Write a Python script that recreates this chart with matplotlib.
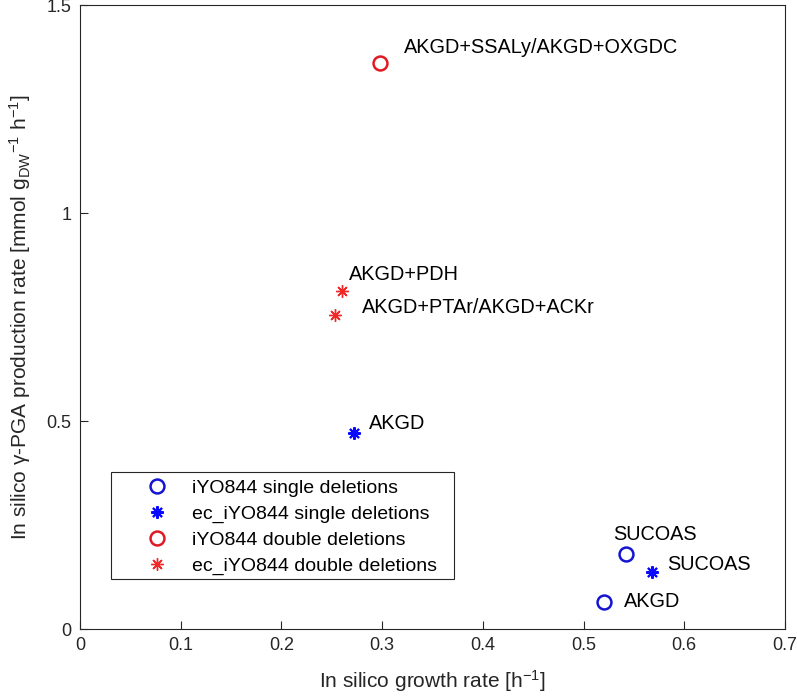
import matplotlib
matplotlib.use("Agg")
import matplotlib.pyplot as plt
from matplotlib.patches import Rectangle

plt.rcParams['font.family'] = ['Liberation Sans', 'DejaVu Sans']
plt.rcParams['mathtext.fontset'] = 'custom'
plt.rcParams['mathtext.rm'] = 'Liberation Sans'
plt.rcParams['mathtext.it'] = 'Liberation Sans'

# data
single_circle_x = [0.542, 0.520]
single_circle_y = [0.180, 0.066]
single_star_x = [0.2725, 0.568]
single_star_y = [0.470, 0.138]
double_circle_x = [0.298]
double_circle_y = [1.360]
double_star_x = [0.260, 0.253]
double_star_y = [0.8125, 0.756]

labels = ["AKGD+SSALy/AKGD+OXGDC", "AKGD+PDH", "AKGD+PTAr/AKGD+ACKr",
          "AKGD", "SUCOAS", "SUCOAS", "AKGD"]
label_x = [0.322, 0.267, 0.280, 0.287, 0.529, 0.583, 0.540]
label_y = [1.397, 0.851, 0.773, 0.494, 0.228, 0.154, 0.066]

legend_labels = ["iYO844 single deletions", "ec_iYO844 single deletions",
                 "iYO844 double deletions", "ec_iYO844 double deletions"]

blue = '#1414d2'
blue_star = '#0a0aff'
red = '#e01a22'
red_star = '#f02828'
dark = '#262626'

fig = plt.figure(figsize=(7.97, 6.97), dpi=100)
ax = fig.add_axes([80/797, 68/697, 705/797, 624/697])

star = (8, 2, 0)
h1, = ax.plot(single_circle_x, single_circle_y, 'o', mfc='none', mec=blue, mew=1.8, ms=10, ls='none')
h2, = ax.plot(single_star_x, single_star_y, marker=star, color=blue_star, mec=blue_star, mew=1.5, ms=9, ls='none')
h3, = ax.plot(double_circle_x, double_circle_y, 'o', mfc='none', mec=red, mew=1.8, ms=10, ls='none')
h4, = ax.plot(double_star_x, double_star_y, marker=star, color=red_star, mec=red_star, mew=1.0, ms=9, ls='none')

for t, x, y in zip(labels, label_x, label_y):
    ax.text(x, y, t, fontsize=14.3, va='center', ha='left', color='black')

ax.set_xlim(0, 0.7)
ax.set_ylim(0, 1.5)
ax.set_xticks([0, 0.1, 0.2, 0.3, 0.4, 0.5, 0.6, 0.7])
ax.set_xticklabels(['0', '0.1', '0.2', '0.3', '0.4', '0.5', '0.6', '0.7'])
ax.set_yticks([0, 0.5, 1, 1.5])
ax.set_yticklabels(['0', '0.5', '1', '1.5'])
ax.tick_params(direction='in', length=6, width=0.8, labelsize=13, colors=dark,
               labelcolor=dark, pad=6)
for s in ax.spines.values():
    s.set_color(dark)
    s.set_linewidth(0.8)

ax.set_xlabel(r"In silico growth rate [h$^{-1}$]", fontsize=15, color=dark, labelpad=10)
ax.set_ylabel(r"In silico γ-PGA production rate [mmol g$_{\mathrm{DW}}$$^{-1}$ h$^{-1}$]",
              fontsize=15, color=dark, labelpad=10)

# legend frame drawn manually (MATLAB-like padding)
ax.add_patch(Rectangle((31/705, 50/624), 343/705, 107/624, transform=ax.transAxes,
                       fill=True, facecolor='white', edgecolor=dark, lw=0.8, zorder=4))
leg = ax.legend([h1, h2, h3, h4], legend_labels, loc='center left',
                bbox_to_anchor=(57.6/705, 102/624), fontsize=14, frameon=False,
                handlelength=2.0, handletextpad=0.8, borderpad=0, labelspacing=0.43,
                borderaxespad=0)
leg.set_zorder(5)

fig.savefig('out.png', dpi=100)
